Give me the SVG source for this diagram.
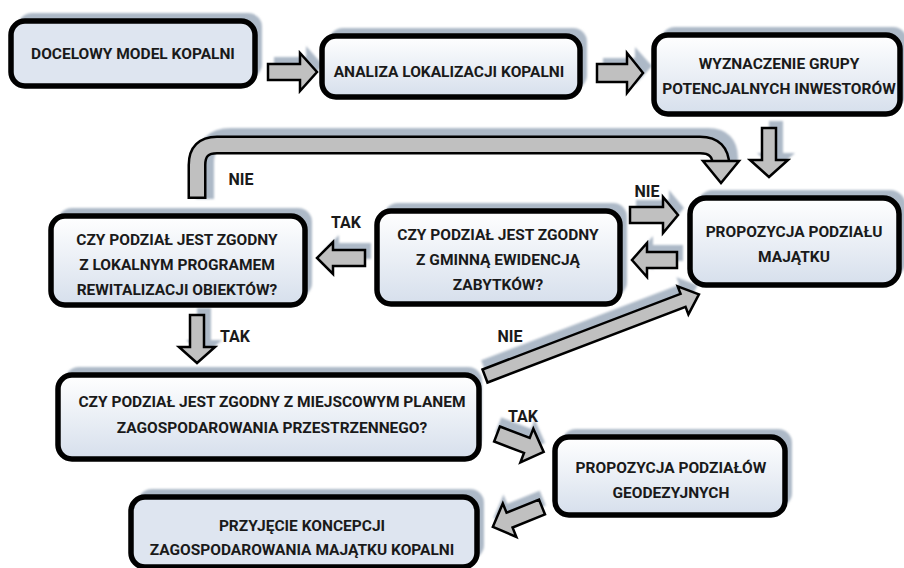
<svg xmlns="http://www.w3.org/2000/svg" width="904" height="568" viewBox="0 0 904 568">
<defs>
<linearGradient id="gBox" x1="0" y1="0" x2="0" y2="1">
<stop offset="0" stop-color="#ffffff"/>
<stop offset="1" stop-color="#d6dfec"/>
</linearGradient>
<filter id="soft" x="-10%" y="-20%" width="120%" height="140%"><feGaussianBlur stdDeviation="1.2"/></filter>
<path id="arr" d="M0,-8 H32 V-19 L49,0 L32,19 V8 H0 Z"/>
</defs>
<style>
.sh{fill:#adb9c7;filter:url(#soft)}
.box{fill:url(#gBox);stroke:#000;stroke-width:5.5}
.flat{fill:#dee5f0;stroke:#000;stroke-width:5.5}
.ar{fill:#c0c0c0;stroke:#000;stroke-width:2.5;stroke-linejoin:miter}
.ash{fill:#adb9c7;filter:url(#soft)}
text{font-family:Roboto,"Open Sans","Liberation Sans",sans-serif;font-weight:700;font-size:15.5px;fill:#1a1a1a;text-anchor:middle}
.lbl{font-size:16px}
</style>
<rect width="904" height="568" fill="#ffffff"/>

<g id="connectors">
<!-- A1 -->
<g transform="translate(268,72)"><use href="#arr" class="ash" transform="translate(6,-7)"/><use href="#arr" class="ar"/></g>
<!-- A2 -->
<g transform="translate(597,73)"><use href="#arr" class="ash" transform="translate(6,-7)"/><path class="ar" d="M0,-9 H30 V-20 L46,0 L30,20 V9 H0 Z"/></g>
<!-- A3 down -->
<g transform="translate(769,128) rotate(90)"><path class="ash" transform="translate(-7,-7)" d="M0,-7 H32 V-19 L49,0 L32,19 V7 H0 Z"/><path class="ar" d="M0,-7 H32 V-19 L49,0 L32,19 V7 H0 Z"/></g>
<!-- A4 big bend -->
<path d="M205,199 V163 Q205,137 231,137 H708 Q729,137 729,158 V162" fill="none" stroke="#adb9c7" stroke-width="18" filter="url(#soft)"/>
<path d="M197,199 V165 Q197,145 217,145 H700 Q721,145 721,166 V163" fill="none" stroke="#000" stroke-width="19"/>
<path d="M197,196.5 V165 Q197,145 217,145 H700 Q721,145 721,166 V163" fill="none" stroke="#c0c0c0" stroke-width="14"/>
<path class="ar" d="M703,161 H739 L721,183 Z"/>
<!-- A5 NIE right -->
<g transform="translate(630,215)"><path class="ash" transform="translate(6,-7)" d="M0,-8 H33 V-18 L48,0 L33,18 V8 H0 Z"/><path class="ar" d="M0,-8 H33 V-18 L48,0 L33,18 V8 H0 Z"/></g>
<!-- A6 left -->
<g transform="translate(677,260) rotate(180)"><path class="ash" transform="translate(-6,7)" d="M0,-8 H30 V-17 L45,0 L30,17 V8 H0 Z"/><path class="ar" d="M0,-8 H30 V-17 L45,0 L30,17 V8 H0 Z"/></g>
<!-- A7 TAK left -->
<g transform="translate(365,258) rotate(180)"><path class="ash" transform="translate(-6,7)" d="M0,-8 H32 V-16 L48,0 L32,16 V8 H0 Z"/><path class="ar" d="M0,-8 H32 V-16 L48,0 L32,16 V8 H0 Z"/></g>
<!-- A8 TAK down -->
<g transform="translate(197,315) rotate(90)"><path class="ash" transform="translate(-7,-7)" d="M0,-7 H32 V-18 L48,0 L32,18 V7 H0 Z"/><path class="ar" d="M0,-7 H32 V-18 L48,0 L32,18 V7 H0 Z"/></g>
<!-- A9 NIE diagonal -->
<g transform="translate(485,376) rotate(-20.9)"><path class="ash" transform="translate(2,-9)" d="M0,-7 H212 V-15 L229,0 L212,15 V7 H0 Z"/><path class="ar" d="M0,-7 H212 V-15 L229,0 L212,15 V7 H0 Z"/></g>
<!-- A10 TAK diagonal down -->
<g transform="translate(497,434) rotate(21)"><path class="ash" transform="translate(-2,-9)" d="M0,-8 H32 V-18 L50,0 L32,18 V8 H0 Z"/><path class="ar" d="M0,-8 H32 V-18 L50,0 L32,18 V8 H0 Z"/></g>
<!-- A11 down-left -->
<g transform="translate(542,507) rotate(158)"><path class="ash" transform="translate(-4,8)" d="M0,-8 H35 V-18 L53,0 L35,18 V8 H0 Z"/><path class="ar" d="M0,-8 H35 V-18 L53,0 L35,18 V8 H0 Z"/></g>
<text class="lbl" x="241" y="185">NIE</text>
<text class="lbl" x="647" y="197">NIE</text>
<text class="lbl" x="346" y="228">TAK</text>
<text class="lbl" x="235" y="342">TAK</text>
<text class="lbl" x="510" y="342">NIE</text>
<text class="lbl" x="523" y="422">TAK</text>
</g>

<g id="n1">
<rect class="sh" x="18" y="13" width="244" height="65" rx="14"/>
<rect class="flat" x="11" y="21" width="244" height="65" rx="14"/>
<text x="133" y="59">DOCELOWY MODEL KOPALNI</text>
</g>
<g id="n2">
<rect class="sh" x="329" y="28" width="258" height="61" rx="14"/>
<rect class="box" x="322" y="36" width="258" height="61" rx="14"/>
<text x="449" y="77">ANALIZA LOKALIZACJI KOPALNI</text>
</g>
<g id="n3">
<rect class="sh" x="661" y="27" width="246" height="79" rx="14"/>
<rect class="box" x="654" y="35" width="246" height="79" rx="14"/>
<text x="779" y="69">WYZNACZENIE GRUPY</text>
<text x="779" y="94">POTENCJALNYCH INWESTORÓW</text>
</g>
<g id="n4">
<rect class="sh" x="697" y="190" width="209" height="87" rx="16"/>
<rect class="box" x="690" y="198" width="209" height="87" rx="16"/>
<text x="794" y="237">PROPOZYCJA PODZIAŁU</text>
<text x="794" y="262">MAJĄTKU</text>
</g>
<g id="n5">
<rect class="sh" x="384" y="203" width="243" height="93" rx="14"/>
<rect class="box" x="377" y="211" width="243" height="93" rx="14"/>
<text x="498" y="240">CZY PODZIAŁ JEST ZGODNY</text>
<text x="498" y="265">Z GMINNĄ EWIDENCJĄ</text>
<text x="498" y="290">ZABYTKÓW?</text>
</g>
<g id="n6">
<rect class="sh" x="58" y="208" width="254" height="89" rx="14"/>
<rect class="box" x="51" y="216" width="254" height="89" rx="14"/>
<text x="177" y="245">CZY PODZIAŁ JEST ZGODNY</text>
<text x="177" y="270">Z LOKALNYM PROGRAMEM</text>
<text x="177" y="295">REWITALIZACJI OBIEKTÓW?</text>
</g>
<g id="n7">
<rect class="sh" x="65" y="367" width="417" height="84" rx="14"/>
<rect class="box" x="58" y="375" width="421" height="84" rx="14"/>
<text x="272" y="407">CZY PODZIAŁ JEST ZGODNY Z MIEJSCOWYM PLANEM</text>
<text x="272" y="433">ZAGOSPODAROWANIA PRZESTRZENNEGO?</text>
</g>
<g id="n8">
<rect class="sh" x="562" y="429" width="230" height="78" rx="14"/>
<rect class="box" x="555" y="437" width="230" height="78" rx="14"/>
<text x="671" y="473">PROPOZYCJA PODZIAŁÓW</text>
<text x="671" y="498">GEODEZYJNYCH</text>
</g>
<g id="n9">
<rect class="sh" x="138" y="489" width="346" height="70" rx="14"/>
<rect class="flat" x="131" y="497" width="346" height="70" rx="14"/>
<text x="302" y="531">PRZYJĘCIE KONCEPCJI</text>
<text x="302" y="555">ZAGOSPODAROWANIA MAJĄTKU KOPALNI</text>
</g>
</svg>
